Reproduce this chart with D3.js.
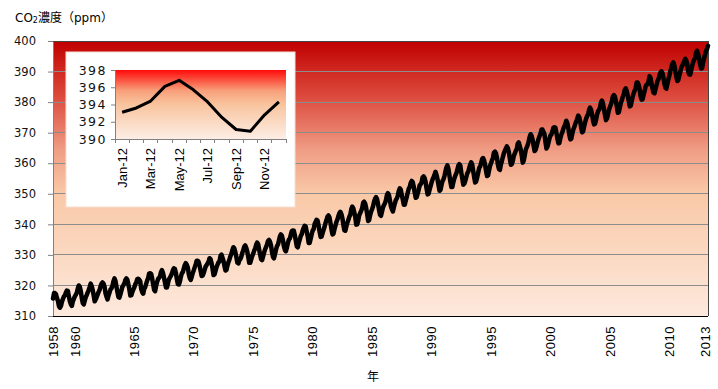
<!DOCTYPE html>
<html>
<head>
<meta charset="utf-8">
<script src="https://cdn.jsdelivr.net/npm/d3@7"></script>
<style>
  body { margin: 0; background: #fff; }
  svg { display: block; }
</style>
</head>
<body>
<svg id="chart"></svg>
<script>
// monthly CO2 (ppm), Mauna Loa, starting March 1958
const co2Start = new Date(1958, 2, 1);
const co2Monthly = [
  315.7, 317.5, 317.5, 317.1, 315.9, 314.9, 313.2, 312.7, 313.3, 314.7,
  315.6, 316.4, 316.7, 317.7, 318.3, 318.2, 316.5, 314.8, 313.8, 313.3, 314.8, 315.6,
  316.4, 317.0, 317.6, 319.0, 320.0, 319.6, 318.2, 315.9, 314.2, 313.8, 315.0, 316.2,
  316.9, 317.7, 318.5, 319.5, 320.6, 319.8, 318.6, 316.8, 314.8, 315.4, 316.1, 317.0,
  317.9, 318.6, 319.7, 320.6, 321.0, 320.6, 319.6, 317.4, 316.3, 315.4, 316.7, 317.7,
  318.7, 319.1, 319.9, 321.4, 322.3, 321.5, 319.7, 317.8, 316.2, 316.0, 317.1, 318.3,
  319.6, 320.1, 320.7, 321.8, 322.3, 321.9, 320.4, 318.7, 316.7, 316.8, 317.8, 318.7,
  319.4, 320.4, 320.9, 322.1, 322.2, 321.9, 321.4, 318.8, 317.8, 317.3, 318.9, 319.4,
  320.6, 321.6, 322.4, 323.9, 324.0, 323.8, 322.4, 320.4, 318.6, 318.1, 319.8, 321.1,
  322.1, 322.5, 323.0, 324.4, 325.0, 324.1, 322.6, 320.9, 319.3, 319.3, 320.7, 322.0,
  322.6, 323.2, 323.9, 325.0, 325.6, 325.4, 324.1, 322.0, 320.4, 320.3, 321.3, 322.8,
  324.0, 324.4, 325.6, 326.7, 327.3, 326.8, 325.9, 323.7, 322.4, 321.8, 322.9, 324.1,
  325.0, 326.0, 326.9, 328.1, 328.1, 327.7, 326.4, 324.7, 323.1, 323.2, 324.0, 325.1,
  326.2, 326.7, 327.2, 327.8, 328.9, 328.6, 327.3, 325.5, 323.4, 323.6, 324.8, 326.0,
  326.8, 327.6, 327.8, 329.7, 330.1, 329.1, 328.1, 326.3, 324.9, 325.1, 326.5, 327.6,
  328.5, 329.6, 330.3, 331.5, 332.5, 332.1, 330.9, 329.3, 327.5, 327.2, 328.2, 328.6,
  329.4, 330.7, 331.5, 332.7, 333.1, 332.3, 331.2, 329.4, 327.4, 327.4, 328.5, 329.6,
  330.4, 331.4, 332.0, 333.3, 334.0, 333.6, 331.9, 330.1, 328.6, 328.3, 329.5, 330.8,
  331.8, 332.6, 333.5, 334.6, 334.9, 334.3, 333.1, 330.9, 329.3, 328.9, 330.3, 331.7,
  332.9, 333.4, 334.7, 336.1, 336.7, 336.3, 334.9, 332.8, 331.6, 331.2, 332.4, 333.9,
  335.0, 335.4, 336.6, 337.8, 338.0, 337.9, 336.5, 334.7, 332.8, 332.5, 333.9, 335.0,
  336.2, 336.8, 338.0, 338.9, 339.5, 339.3, 337.7, 336.1, 333.9, 333.9, 335.3, 336.7,
  338.0, 338.4, 340.1, 340.8, 341.5, 341.2, 339.6, 337.6, 335.9, 336.0, 337.1, 338.2,
  339.2, 340.5, 341.4, 342.5, 342.9, 342.3, 340.5, 338.4, 336.7, 336.9, 338.4, 339.6,
  340.8, 341.6, 342.7, 343.6, 344.1, 343.4, 342.1, 339.8, 338.0, 337.9, 339.3, 340.5,
  341.4, 342.5, 343.1, 344.9, 345.8, 345.3, 344.0, 342.4, 339.9, 340.0, 341.2, 343.0,
  343.7, 344.5, 345.3, 347.1, 347.4, 346.8, 345.4, 343.3, 341.1, 341.4, 343.0, 344.2,
  345.0, 346.0, 347.4, 348.4, 348.9, 348.3, 346.6, 344.7, 343.1, 342.8, 344.2, 345.6,
  346.3, 347.0, 347.9, 349.6, 350.2, 349.6, 347.9, 345.9, 344.9, 344.2, 345.7, 346.9,
  348.0, 348.5, 349.4, 351.0, 351.8, 351.3, 349.5, 348.1, 346.4, 346.4, 347.8, 349.0,
  350.4, 351.7, 352.2, 353.6, 354.2, 353.8, 352.4, 350.4, 348.7, 348.9, 350.1, 351.3,
  352.8, 353.1, 353.7, 355.4, 355.7, 355.1, 353.9, 351.7, 349.8, 350.0, 351.3, 352.5,
  353.7, 354.7, 355.4, 356.2, 357.2, 356.2, 354.8, 352.9, 351.0, 351.2, 352.8, 354.2,
  354.7, 355.8, 357.2, 358.6, 359.3, 358.2, 356.2, 354.0, 352.2, 352.2, 353.8, 355.0,
  356.0, 356.7, 357.8, 359.2, 359.7, 359.3, 357.0, 355.0, 353.0, 353.3, 354.2, 355.4,
  356.7, 357.2, 358.4, 359.5, 360.3, 359.6, 357.6, 355.5, 353.7, 354.0, 355.3, 356.8,
  358.4, 358.9, 360.0, 361.3, 361.7, 361.0, 359.6, 357.5, 355.8, 356.0, 357.6, 359.1,
  360.0, 361.0, 361.7, 363.5, 363.8, 363.3, 361.9, 359.5, 358.1, 357.8, 359.6, 360.7,
  362.1, 363.3, 364.1, 364.8, 365.5, 365.0, 363.7, 361.5, 359.5, 359.7, 360.8, 362.4,
  363.2, 364.1, 364.6, 366.4, 366.8, 365.7, 364.5, 362.6, 360.2, 360.8, 362.5, 364.3,
  365.2, 366.0, 367.1, 368.6, 369.5, 369.0, 367.7, 365.8, 364.0, 364.4, 365.5, 366.9,
  368.0, 368.9, 369.7, 371.0, 371.0, 370.3, 369.5, 366.9, 364.8, 365.4, 366.7, 368.1,
  369.1, 369.4, 370.5, 371.6, 371.8, 371.6, 370.0, 368.0, 366.5, 366.6, 368.2, 369.4,
  370.2, 371.4, 372.0, 372.8, 373.9, 373.2, 371.5, 369.4, 367.8, 368.0, 369.6, 371.0,
  371.8, 372.9, 373.6, 374.5, 375.6, 375.1, 373.9, 371.6, 370.1, 370.4, 372.1, 373.4,
  374.6, 375.5, 375.9, 377.5, 378.2, 377.5, 376.1, 374.0, 372.7, 372.9, 374.2, 375.9,
  377.0, 377.5, 378.2, 380.0, 380.5, 379.6, 377.8, 375.8, 374.1, 374.6, 375.9, 377.4,
  378.4, 379.3, 380.2, 381.9, 382.3, 381.8, 380.4, 378.5, 376.5, 376.7, 378.2, 379.7,
  380.6, 381.8, 382.5, 384.1, 384.5, 383.6, 382.2, 380.4, 378.6, 378.8, 380.3, 381.8,
  382.9, 383.8, 384.5, 386.4, 386.4, 385.7, 384.2, 381.9, 380.8, 380.9, 382.4, 383.6,
  385.1, 385.7, 385.8, 386.8, 388.5, 388.0, 386.0, 384.4, 383.1, 382.9, 384.3, 385.6,
  386.9, 387.5, 388.8, 389.6, 390.1, 389.5, 388.0, 386.1, 384.7, 384.4, 386.0, 387.4,
  388.7, 390.2, 391.2, 392.5, 393.0, 392.2, 390.2, 388.4, 386.9, 387.2, 388.7, 389.8,
  391.3, 391.9, 392.6, 393.3, 394.2, 393.7, 392.5, 390.1, 389.1, 389.0, 390.3, 391.9,
  393.1, 393.9, 394.4, 396.2, 396.8, 395.8, 394.3, 392.4, 391.0, 391.1, 392.9, 394.3,
  395.6, 396.8, 397.4, 398.4
];
const yearTicks = [1958, 1960, 1965, 1970, 1975, 1980, 1985, 1990, 1995, 2000, 2005, 2010, 2013];
const yTicks = [310, 320, 330, 340, 350, 360, 370, 380, 390, 400];

// inset: 2012 monthly
const insetMonths = ["Jan-12", "Feb-12", "Mar-12", "Apr-12", "May-12", "Jun-12",
                     "Jul-12", "Aug-12", "Sep-12", "Oct-12", "Nov-12", "Dec-12"];
const insetValues = [393.1, 393.6, 394.4, 396.1, 396.8, 395.7, 394.3, 392.5, 391.1, 390.9, 392.8, 394.3];
const insetLabels = ["Jan-12", "Mar-12", "May-12", "Jul-12", "Sep-12", "Nov-12"];
const insetYTicks = [390, 392, 394, 396, 398];

const W = 718, H = 389;
const svg = d3.select("#chart").attr("width", W).attr("height", H);
const defs = svg.append("defs");

const plot = { left: 53, right: 708, top: 41, bottom: 316 };

const mainGrad = defs.append("linearGradient").attr("id", "mainGrad")
  .attr("x1", 0).attr("y1", 0).attr("x2", 0).attr("y2", 1);
[[0, "#c00000"], [0.2, "#dc4a3c"], [0.4, "#f09e86"], [0.55, "#f9c8a6"], [1, "#fde9dd"]]
  .forEach(s => mainGrad.append("stop").attr("offset", s[0]).attr("stop-color", s[1]));

const insetGrad = defs.append("linearGradient").attr("id", "insetGrad")
  .attr("x1", 0).attr("y1", 0).attr("x2", 0).attr("y2", 1);
[[0, "#ff0a0a"], [0.3, "#f7a07a"], [0.5, "#f8c49e"], [1, "#fdeee6"]]
  .forEach(s => insetGrad.append("stop").attr("offset", s[0]).attr("stop-color", s[1]));

const dates = co2Monthly.map((v, i) => new Date(1958, 2 + i, 1));
const x = d3.scaleTime().domain([dates[0], dates[dates.length - 1]]).range([plot.left, plot.right]);
const y = d3.scaleLinear().domain([310, 400]).range([plot.bottom, plot.top]);

svg.append("rect").attr("x", plot.left).attr("y", plot.top)
  .attr("width", plot.right - plot.left).attr("height", plot.bottom - plot.top)
  .attr("fill", "url(#mainGrad)");

// gridlines
svg.append("g").selectAll("line").data(yTicks.slice(1, -1)).enter().append("line")
  .attr("x1", plot.left).attr("x2", plot.right)
  .attr("y1", d => y(d)).attr("y2", d => y(d))
  .attr("stroke", "#8c8c8c").attr("stroke-width", 1).attr("shape-rendering", "crispEdges");

// y axis
const yAxis = svg.append("g").attr("transform", `translate(${plot.left},0)`)
  .call(d3.axisLeft(y).tickValues(yTicks).tickSize(5).tickPadding(12));
yAxis.select(".domain").attr("stroke", "#808080");
yAxis.selectAll(".tick line").attr("stroke", "#808080");
yAxis.selectAll("text").attr("font-family", "'DejaVu Sans', Verdana, sans-serif")
  .attr("font-size", "11.5px").attr("fill", "#111");

// border top/right, bottom axis
svg.append("path")
  .attr("d", `M${plot.left},${plot.top}H${plot.right}V${plot.bottom}`)
  .attr("fill", "none").attr("stroke", "#444").attr("shape-rendering", "crispEdges");
svg.append("line").attr("x1", plot.left).attr("x2", plot.right)
  .attr("y1", plot.bottom).attr("y2", plot.bottom)
  .attr("stroke", "#000").attr("shape-rendering", "crispEdges");

// main line
const line = d3.line().x((d, i) => x(dates[i])).y(d => y(d)).curve(d3.curveLinear);
svg.append("path").datum(co2Monthly).attr("d", line)
  .attr("fill", "none").attr("stroke", "#000").attr("stroke-width", 4.5)
  .attr("stroke-linejoin", "round").attr("stroke-linecap", "round");

// x labels (rotated)
const tickDate = yr => yr === 1958 ? dates[0] : new Date(yr, 0, 1);
svg.append("g").selectAll("text").data(yearTicks).enter().append("text")
  .attr("transform", d => `translate(${x(tickDate(d))},326) rotate(-90)`)
  .attr("dy", "0.36em").attr("text-anchor", "end")
  .attr("font-family", "'Liberation Sans', Arial, sans-serif").attr("font-size", "13px")
  .attr("letter-spacing", "0.5px").attr("fill", "#000")
  .text(d => d);

// axis titles
const title = svg.append("text").attr("x", 15).attr("y", 22)
  .attr("font-family", "'DejaVu Sans', 'Noto Sans CJK JP', sans-serif")
  .attr("font-size", "12px").attr("fill", "#000");
title.append("tspan").text("CO");
title.append("tspan").attr("font-size", "8px").attr("dy", 1).text("2");
title.append("tspan").attr("dy", -1).attr("font-family", "'Noto Sans CJK JP', sans-serif").text("濃度（");
title.append("tspan").text("ppm");
title.append("tspan").attr("font-family", "'Noto Sans CJK JP', sans-serif").text("）");

svg.append("text").attr("x", 373).attr("y", 381).attr("text-anchor", "middle")
  .attr("font-family", "'Noto Sans CJK JP', sans-serif").attr("font-size", "12px")
  .attr("fill", "#000").text("年");

// inset
const inset = { left: 115, right: 286, top: 70, bottom: 139 };
svg.append("rect").attr("x", 66).attr("y", 52).attr("width", 229).attr("height", 155)
  .attr("fill", "#fff").attr("stroke", "#f3ddd2").attr("stroke-width", 1);

const ix = d3.scaleBand().domain(insetMonths).range([inset.left, inset.right]);
const iy = d3.scaleLinear().domain([390, 398]).range([inset.bottom, inset.top]);

svg.append("rect").attr("x", inset.left).attr("y", inset.top)
  .attr("width", inset.right - inset.left).attr("height", inset.bottom - inset.top)
  .attr("fill", "url(#insetGrad)");

const iyAxis = svg.append("g").attr("transform", `translate(${inset.left},0)`)
  .call(d3.axisLeft(iy).tickValues(insetYTicks).tickSize(4).tickPadding(4));
iyAxis.select(".domain").attr("stroke", "#808080");
iyAxis.selectAll(".tick line").attr("stroke", "#808080");
iyAxis.selectAll("text").attr("font-family", "'DejaVu Sans', Verdana, sans-serif")
  .attr("font-size", "12.5px").attr("letter-spacing", "1.5px").attr("fill", "#111");

// inset bottom axis with ticks at category boundaries
const bounds = insetMonths.map(m => ix(m)).concat([inset.right]);
svg.append("line").attr("x1", inset.left).attr("x2", inset.right)
  .attr("y1", inset.bottom).attr("y2", inset.bottom).attr("stroke", "#808080")
  .attr("shape-rendering", "crispEdges");
svg.append("g").selectAll("line").data(bounds).enter().append("line")
  .attr("x1", d => d).attr("x2", d => d)
  .attr("y1", inset.bottom).attr("y2", inset.bottom + 4)
  .attr("stroke", "#808080").attr("shape-rendering", "crispEdges");

svg.append("g").selectAll("text").data(insetLabels).enter().append("text")
  .attr("transform", d => `translate(${ix(d) + ix.bandwidth() / 2},148) rotate(-90)`)
  .attr("dy", "0.36em").attr("text-anchor", "end")
  .attr("font-family", "'Liberation Sans', Arial, sans-serif").attr("font-size", "13px")
  .attr("fill", "#000").text(d => d);

const iline = d3.line().x((d, i) => ix(insetMonths[i]) + ix.bandwidth() / 2).y(d => iy(d));
svg.append("path").datum(insetValues).attr("d", iline)
  .attr("fill", "none").attr("stroke", "#000").attr("stroke-width", 3)
  .attr("stroke-linejoin", "round");
</script>
</body>
</html>
